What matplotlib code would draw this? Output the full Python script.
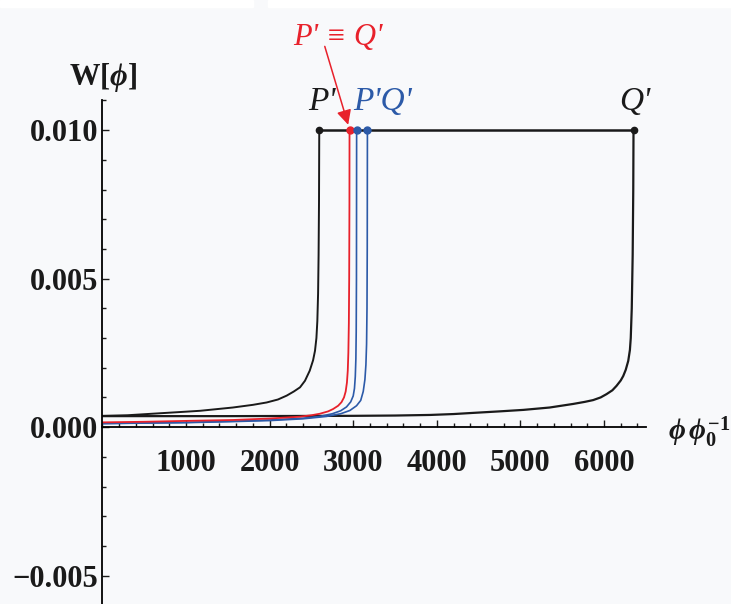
import numpy as np
import matplotlib
matplotlib.use("Agg")
import matplotlib.pyplot as plt
from matplotlib.ticker import MultipleLocator, FixedLocator
from matplotlib.patches import Rectangle

plt.rcParams['mathtext.fontset'] = 'custom'
plt.rcParams['mathtext.rm'] = 'Liberation Serif:bold'
plt.rcParams['mathtext.it'] = 'Liberation Serif:italic:bold'
plt.rcParams['mathtext.bf'] = 'Liberation Serif:bold'

# data (phi/phi0, W[phi])
black_left_phi = [0, 300, 650, 1000, 1170, 1560, 1800, 1965, 2100, 2204, 2290, 2364, 2423, 2480,
                  2520, 2543, 2560, 2571, 2580, 2586, 2591, 2594]
black_left_w = [0.00038, 0.00040, 0.00046, 0.00052, 0.00055, 0.00066, 0.00075, 0.00083, 0.00093, 0.00106, 0.00120, 0.00134, 0.00156, 0.00190,
                0.00225, 0.00257, 0.00300, 0.00357, 0.00450, 0.00580, 0.00760, 0.01000]

black_right_phi = [0, 1500, 3000, 3500, 3920, 4200, 4440, 4750, 5035, 5350, 5630, 5770, 5870, 5960, 6030, 6100,
                   6150, 6200, 6230, 6260, 6290, 6310, 6320, 6332, 6343, 6350, 6353]
black_right_w = [0.00037, 0.00037, 0.00038, 0.00039, 0.00041, 0.00044, 0.00048, 0.00053, 0.00058, 0.00066, 0.00078, 0.00085, 0.00091, 0.00100, 0.00111, 0.00124,
                 0.00139, 0.00157, 0.00172, 0.00193, 0.00223, 0.00260, 0.00300, 0.00400, 0.00580, 0.00800, 0.01000]

red_phi = [0, 500, 1000, 1560, 2000, 2360, 2500, 2600, 2700, 2760, 2820, 2860, 2890, 2910, 2925, 2935, 2942, 2948, 2952, 2955, 2956]
red_w = [0.00016, 0.00018, 0.00021, 0.00024, 0.00029, 0.00035, 0.00040, 0.00045, 0.00053, 0.00061, 0.00072, 0.00084, 0.00100, 0.00120, 0.00150, 0.00190, 0.00250, 0.00350, 0.00500, 0.00750, 0.01000]

blue1_phi = [0, 1000, 1600, 2000, 2400, 2600, 2750, 2850, 2920, 2970, 3000, 3015, 3025, 3032, 3036, 3039, 3040, 3041]
blue1_w = [0.00012, 0.00016, 0.00020, 0.00024, 0.00030, 0.00036, 0.00045, 0.00055, 0.00068, 0.00085, 0.00105, 0.00130, 0.00170, 0.00230, 0.00320, 0.00500, 0.00750, 0.01000]

blue2_phi = [0, 1000, 1600, 2000, 2400, 2680, 2850, 2960, 3040, 3090, 3120, 3140, 3152, 3160, 3165, 3168, 3170]
blue2_w = [0.00012, 0.00015, 0.00019, 0.00022, 0.00028, 0.00036, 0.00045, 0.00056, 0.00072, 0.00090, 0.00120, 0.00160, 0.00210, 0.00280, 0.00400, 0.00600, 0.01000]

top_phi = [2594, 6353]
top_w = [0.010, 0.010]
black_dots = [2594, 6353]
red_dots = [2956]
blue_dots = [3041, 3170]

xticks = [1000, 2000, 3000, 4000, 5000, 6000]
yticks = [-0.005, 0.0, 0.005, 0.010]
yticklabels = ["\u22120.005", "0.000", "0.005", "0.010"]

red = "#e8212b"
blue = "#2c5aa8"
black = "#1a1a1a"
bg = "#f8f9fb"

fig = plt.figure(figsize=(7.31, 6.04), dpi=100, facecolor=bg)
# white strip along the top edge
fig.patches.append(Rectangle((0, 1 - 7 / 604), 253 / 731, 7 / 604, transform=fig.transFigure, color="white", zorder=0))
fig.patches.append(Rectangle((268 / 731, 1 - 7 / 604), 1, 7 / 604, transform=fig.transFigure, color="white", zorder=0))

ax = fig.add_axes([102.4 / 731, 0.0003, 543.4 / 731, 0.8334])
ax.set_facecolor(bg)
ax.set_xlim(0, 6500)
ax.set_ylim(-0.00595, 0.011)

ax.plot(black_right_phi, black_right_w, color=black, lw=1.6)
ax.plot(black_left_phi, black_left_w, color=black, lw=1.4)
ax.plot(blue2_phi, blue2_w, color=blue, lw=1.2)
ax.plot(blue1_phi, blue1_w, color=blue, lw=1.2)
ax.plot(red_phi, red_w, color=red, lw=1.3)
ax.plot(top_phi, top_w, color=black, lw=1.8)
ax.plot(black_dots, [0.010] * len(black_dots), "o", color=black, ms=4.5, clip_on=False)
ax.plot(red_dots, [0.010] * len(red_dots), "o", color=red, ms=5, clip_on=False)
ax.plot(blue_dots, [0.010] * len(blue_dots), "o", color=blue, ms=5, clip_on=False)

for s in ["top", "right"]:
    ax.spines[s].set_visible(False)
ax.spines["bottom"].set_position(("data", 0))
ax.spines["left"].set_position(("data", 0))
ax.spines["bottom"].set_linewidth(1.3)
ax.spines["left"].set_linewidth(1.3)

ax.xaxis.set_major_locator(FixedLocator(xticks))
ax.xaxis.set_minor_locator(MultipleLocator(200))
ax.yaxis.set_major_locator(FixedLocator(yticks))
ax.yaxis.set_minor_locator(MultipleLocator(0.001))
ax.set_yticklabels(yticklabels)
ax.tick_params(which="both", direction="in", color=black, width=1.0)
ax.tick_params(which="major", length=5)
ax.tick_params(which="minor", length=3)
ax.tick_params(axis="x", which="major", pad=16)
ax.tick_params(axis="y", which="major", pad=3)
for lab in ax.get_xticklabels() + ax.get_yticklabels():
    lab.set_fontfamily("Liberation Serif")
    lab.set_fontweight("bold")
    lab.set_fontsize(22)
    lab.set_color(black)

# point labels
ax.text(2630, 0.01096, "P'", family="Liberation Serif", style="italic", fontsize=24, color=black, ha="center", va="center")
ax.text(3356, 0.01096, "P'Q'", family="Liberation Serif", style="italic", fontsize=24, color=blue, ha="center", va="center")
ax.text(6370, 0.01096, "Q'", family="Liberation Serif", style="italic", fontsize=24, color=black, ha="center", va="center")
ax.text(2818, 0.01312, "P' \u2261 Q'", family=["Liberation Serif", "DejaVu Serif"], style="italic", fontsize=22, color=red, ha="center", va="center", clip_on=False)
ax.annotate("", xy=(2940, 0.01018), xytext=(2660, 0.01282), annotation_clip=False,
            arrowprops=dict(arrowstyle="-|>", color=red, lw=1.1, mutation_scale=22, shrinkA=0, shrinkB=0))

# axis labels
fig.text(103 / 731, 1 - 77 / 604, r"$\mathrm{W}[\phi]$", fontsize=22, color=black, ha="center", va="center")
fig.text(668 / 731, 1 - 432 / 604, r"$\phi\,\phi_0^{-1}$", fontsize=21, color=black, ha="left", va="center")

fig.savefig("out.png", dpi=100, facecolor=bg)
